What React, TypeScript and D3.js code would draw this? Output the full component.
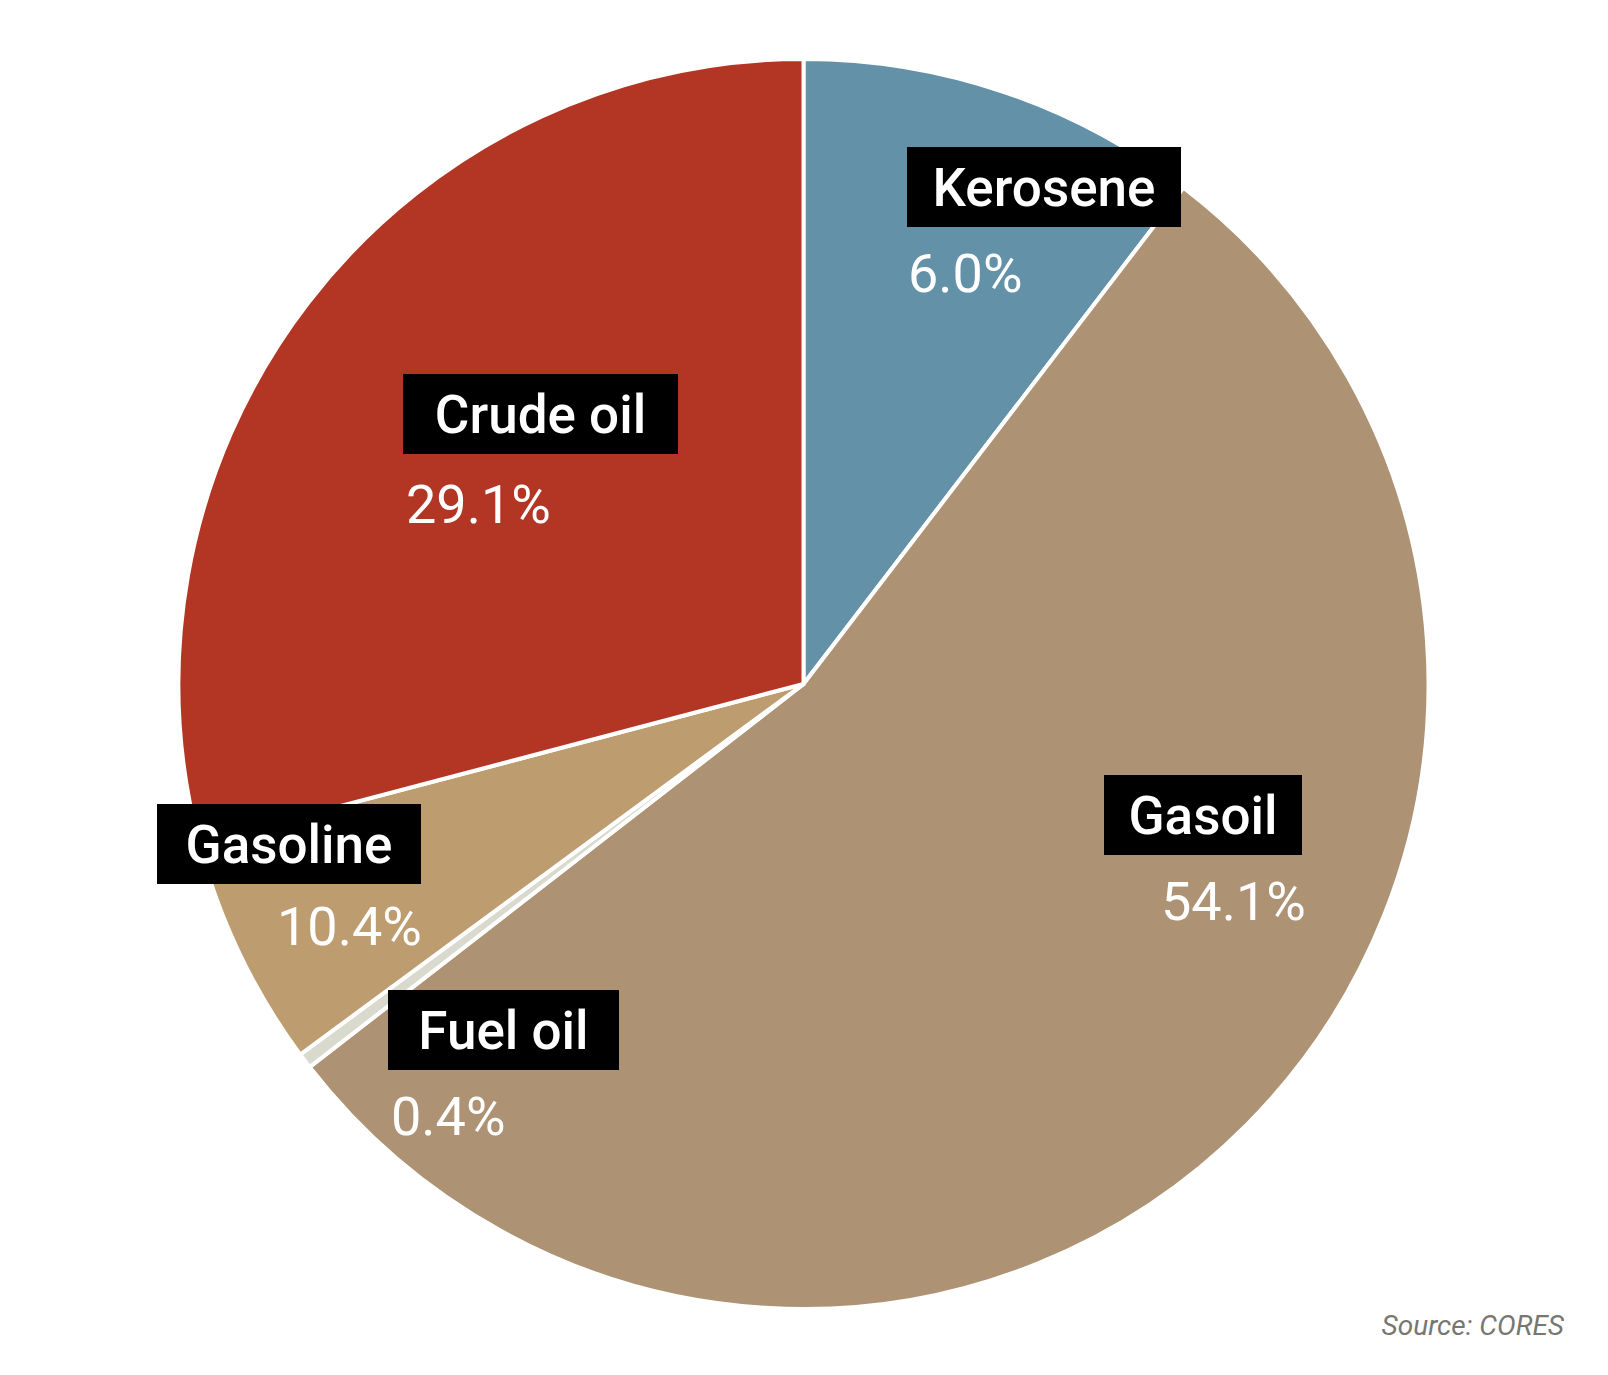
import React, { useRef, useEffect } from "react";
import * as d3 from "d3";

// Slices clockwise from 12 o'clock
const categories = ["Kerosene", "Gasoil", "Fuel oil", "Gasoline", "Crude oil"];
// Slice sizes as drawn in the source chart (its Kerosene/Gasoline wedges are swapped vs. the printed figures)
const sliceShares = [10.4, 54.1, 0.4, 6.0, 29.1];
// Percentages as printed on the labels
const printedShares = [6.0, 54.1, 0.4, 10.4, 29.1];
const sliceColors = ["#6391a8", "#ad9274", "#d9dacd", "#bd9c6f", "#b33524"];

// Label layout: black box (x, y, width) and percentage position
const labelLayout = [
    { bx: 907, by: 147, bw: 274, px: 908, py: 292 },
    { bx: 1104, by: 775, bw: 198, px: 1161, py: 920 },
    { bx: 388, by: 990, bw: 231, px: 391, py: 1135 },
    { bx: 157, by: 804, bw: 264, px: 277, py: 945 },
    { bx: 403, by: 374, bw: 275, px: 406, py: 523 },
];

const W = 1608;
const H = 1375;

const App: React.FC = () => {
    const svgRef = useRef<SVGSVGElement>(null);

    useEffect(() => {
        document.body.style.margin = "0";
        const svgEl = svgRef.current;
        if (!svgEl) return;

        d3.select(svgEl).selectAll("*").remove();
        const svg = d3.select(svgEl).attr("width", W).attr("height", H);

        svg.append("rect").attr("width", W).attr("height", H).attr("fill", "#ffffff");

        const cx = 803.5;
        const cy = 684;
        const radius = 625;

        const pie = d3
            .pie<number>()
            .sort(null)
            .value((d) => d);
        const arcs = pie(sliceShares);
        const arc = d3.arc<d3.PieArcDatum<number>>().innerRadius(0).outerRadius(radius);

        const g = svg.append("g").attr("transform", `translate(${cx}, ${cy})`);
        g.selectAll("path")
            .data(arcs)
            .join("path")
            .attr("d", arc)
            .attr("fill", (_, i) => sliceColors[i])
            .attr("stroke", "#ffffff")
            .attr("stroke-width", 4)
            .attr("stroke-linejoin", "miter");

        const fmt = d3.format(".1f");
        const font = "Roboto, 'DejaVu Sans', sans-serif";

        categories.forEach((name, i) => {
            const L = labelLayout[i];
            const boxH = 80;
            svg.append("rect")
                .attr("x", L.bx)
                .attr("y", L.by)
                .attr("width", L.bw)
                .attr("height", boxH)
                .attr("fill", "#000000");
            svg.append("text")
                .attr("x", L.bx + L.bw / 2)
                .attr("y", L.by + 59)
                .attr("text-anchor", "middle")
                .attr("font-family", font)
                .attr("font-weight", 500)
                .attr("font-size", 53)
                .attr("fill", "#ffffff")
                .text(name);
            svg.append("text")
                .attr("x", L.px)
                .attr("y", L.py)
                .attr("font-family", font)
                .attr("font-weight", 400)
                .attr("font-size", 54)
                .attr("fill", "#ffffff")
                .text(`${fmt(printedShares[i])}%`);
        });

        svg.append("text")
            .attr("x", 1564)
            .attr("y", 1335)
            .attr("text-anchor", "end")
            .attr("font-family", font)
            .attr("font-style", "italic")
            .attr("font-size", 28)
            .attr("fill", "#77776f")
            .text("Source: CORES");
    }, []);

    return <svg ref={svgRef} style={{ display: "block" }}></svg>;
};

export default App;
